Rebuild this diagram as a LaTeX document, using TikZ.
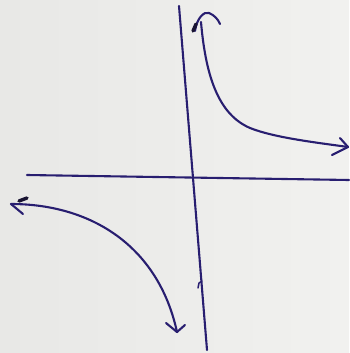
\documentclass[tikz,border=0pt]{standalone}
\definecolor{ink}{RGB}{40,30,112}
\definecolor{paper}{RGB}{232,232,230}
\definecolor{paperR}{RGB}{241,241,239}
\definecolor{blot}{RGB}{25,20,50}
\begin{document}
\begin{tikzpicture}[x=1pt,y=-1pt,
  pen/.style={draw=ink,line width=2.1pt,line cap=round,line join=round},
  blotline/.style={draw=blot,line width=3.4pt,line cap=round}]
\fill[left color=paper,right color=paperR] (0,0) rectangle (349,353);
\useasboundingbox (0,0) rectangle (349,353);
% axes
\coordinate (vtop) at (179,6);
\coordinate (vbot) at (207,350);
\coordinate (hl) at (27,175);
\coordinate (hr) at (349,180);
\draw[pen] (vtop) -- (vbot);
\draw[pen] (hl) -- (hr);
% tick on vertical axis
\draw[pen,line width=1.5pt] (198,288) -- (199,283) -- (202,281);
% upper right branch
\coordinate (ur1) at (201,22);
\coordinate (urmid) at (250,128);
\coordinate (urtip) at (348,147);
\draw[pen] (ur1) .. controls (206,80) and (220,115) .. (urmid)
  .. controls (275,138) and (320,143) .. (urtip);
\draw[pen] (urtip) -- (340,138);
\draw[pen] (urtip) -- (332,155);
% top arrowhead (curled)
\draw[pen] (195,31) .. controls (197,18) and (204,11) .. (209,13) .. controls (214,15) and (218,19) .. (220,24);
\draw[blotline] (193,31) -- (196,24);
% lower left branch
\coordinate (lltip) at (11,204);
\coordinate (llend) at (177,332);
\draw[pen] (lltip) .. controls (90,204) and (158,245) .. (llend);
\draw[pen] (lltip) -- (23,214);
\draw[blotline] (19,201) -- (27,198);
\draw[pen] (llend) -- (166,323);
\draw[pen] (llend) -- (185,325);
\end{tikzpicture}
\end{document}
